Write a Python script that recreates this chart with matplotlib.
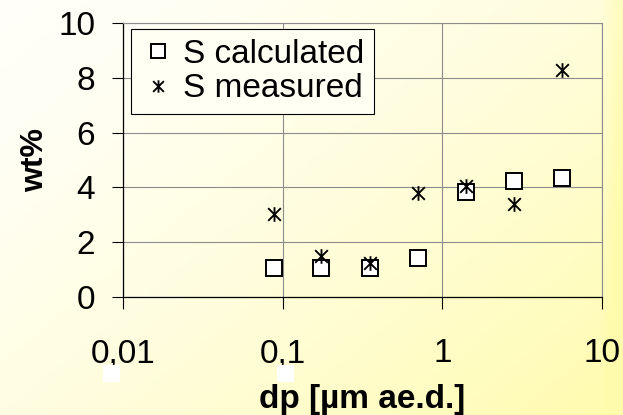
import numpy as np
import matplotlib
matplotlib.use("Agg")
import matplotlib.pyplot as plt
from matplotlib.path import Path
from matplotlib.patches import Rectangle

# Particle size classes (aerodynamic diameter, µm) and sulphur content (wt%)
dp = [0.088, 0.175, 0.35, 0.70, 1.40, 2.82, 5.6]
s_calculated = [1.06, 1.06, 1.06, 1.43, 3.83, 4.23, 4.35]
s_measured = [3.04, 1.51, 1.24, 3.80, 4.07, 3.38, 8.29]

x_ticks = [0.01, 0.1, 1, 10]
x_tick_labels = ["0,01", "0,1", "1", "10"]
y_ticks = [0, 2, 4, 6, 8, 10]

plt.rcParams["font.family"] = ["Liberation Sans", "DejaVu Sans"]

W, H, DPI = 623, 415, 100
fig = plt.figure(figsize=(W / DPI, H / DPI), dpi=DPI)

# Soft white-to-yellow background wash
bg = fig.add_axes([0, 0, 1, 1], zorder=-10)
xs = np.linspace(0, 1, W)
ys = np.linspace(0, 1, H)
X, Y = np.meshgrid(xs, ys)
t = np.clip(0.55 * X + 0.45 * Y, 0, 1) ** 1.5
t = np.clip(t + 0.35 * np.clip((X - 0.965) / 0.03, 0, 1), 0, 1)
top = np.array([1.0, 1.0, 0.975])
bot = np.array([1.0, 0.985, 0.68])
img = top[None, None, :] * (1 - t[..., None]) + bot[None, None, :] * t[..., None]
bg.imshow(img, aspect="auto", extent=[0, 1, 0, 1], origin="upper")
bg.set_axis_off()

ax = fig.add_axes([123 / W, 1 - 297.3 / H, 479 / W, 274.6 / H])
ax.set_facecolor("none")

star = Path([(-1, -1), (1, 1), (-1, 1), (1, -1), (0, -1.15), (0, 1.15)],
            [Path.MOVETO, Path.LINETO, Path.MOVETO, Path.LINETO,
             Path.MOVETO, Path.LINETO])

ax.plot(dp, s_calculated, linestyle="none", marker="s", markersize=11.5,
        markerfacecolor="white", markeredgecolor="black",
        markeredgewidth=1.4, label="S calculated", zorder=3)
ax.plot(dp, s_measured, linestyle="none", marker=star, markersize=10.5,
        markerfacecolor="none", markeredgecolor="black",
        markeredgewidth=1.35, label="S measured", zorder=4)

ax.set_xscale("log")
ax.set_xlim(0.01, 10)
ax.set_ylim(0, 10)
ax.set_xticks(x_ticks)
ax.set_xticklabels(x_tick_labels)
ax.xaxis.set_minor_locator(matplotlib.ticker.NullLocator())
ax.set_yticks(y_ticks)

ax.grid(True, which="major", color="#8c8c8c", linewidth=0.8, zorder=0)
ax.set_axisbelow(True)

for side in ("left", "bottom"):
    ax.spines[side].set_color("black")
    ax.spines[side].set_linewidth(0.9)
for side in ("top", "right"):
    ax.spines[side].set_color("#8c8c8c")
    ax.spines[side].set_linewidth(0.8)

ax.tick_params(axis="x", direction="out", length=8.5, width=0.8,
               color="black", labelsize=24, pad=21)
ax.tick_params(axis="y", direction="out", length=8, width=0.8,
               color="black", labelsize=24, pad=12)

ax.set_xlabel("dp [µm ae.d.]", fontsize=24, fontweight="bold", labelpad=10.5)
ax.set_ylabel("wt%", fontsize=23, fontweight="bold", labelpad=6)

leg = ax.legend(loc="upper left", bbox_to_anchor=(8 / 479, (297.3 - 29) / 274.6),
                borderaxespad=0, fontsize=24, frameon=True, fancybox=False,
                shadow=False, framealpha=1, edgecolor="black",
                facecolor="#fffff4", handlelength=1.0, handletextpad=0.25,
                borderpad=0.3, labelspacing=0.1, markerscale=0.85)
leg.get_frame().set_linewidth(0.8)

# Small white patches beneath the first two tick labels
for x0 in (103, 277):
    fig.patches.append(Rectangle((x0 / W, 1 - 382 / H), 17 / W, 17 / H,
                                 transform=fig.transFigure,
                                 facecolor="white", edgecolor="none",
                                 zorder=5))

fig.savefig("out.png", dpi=DPI)
